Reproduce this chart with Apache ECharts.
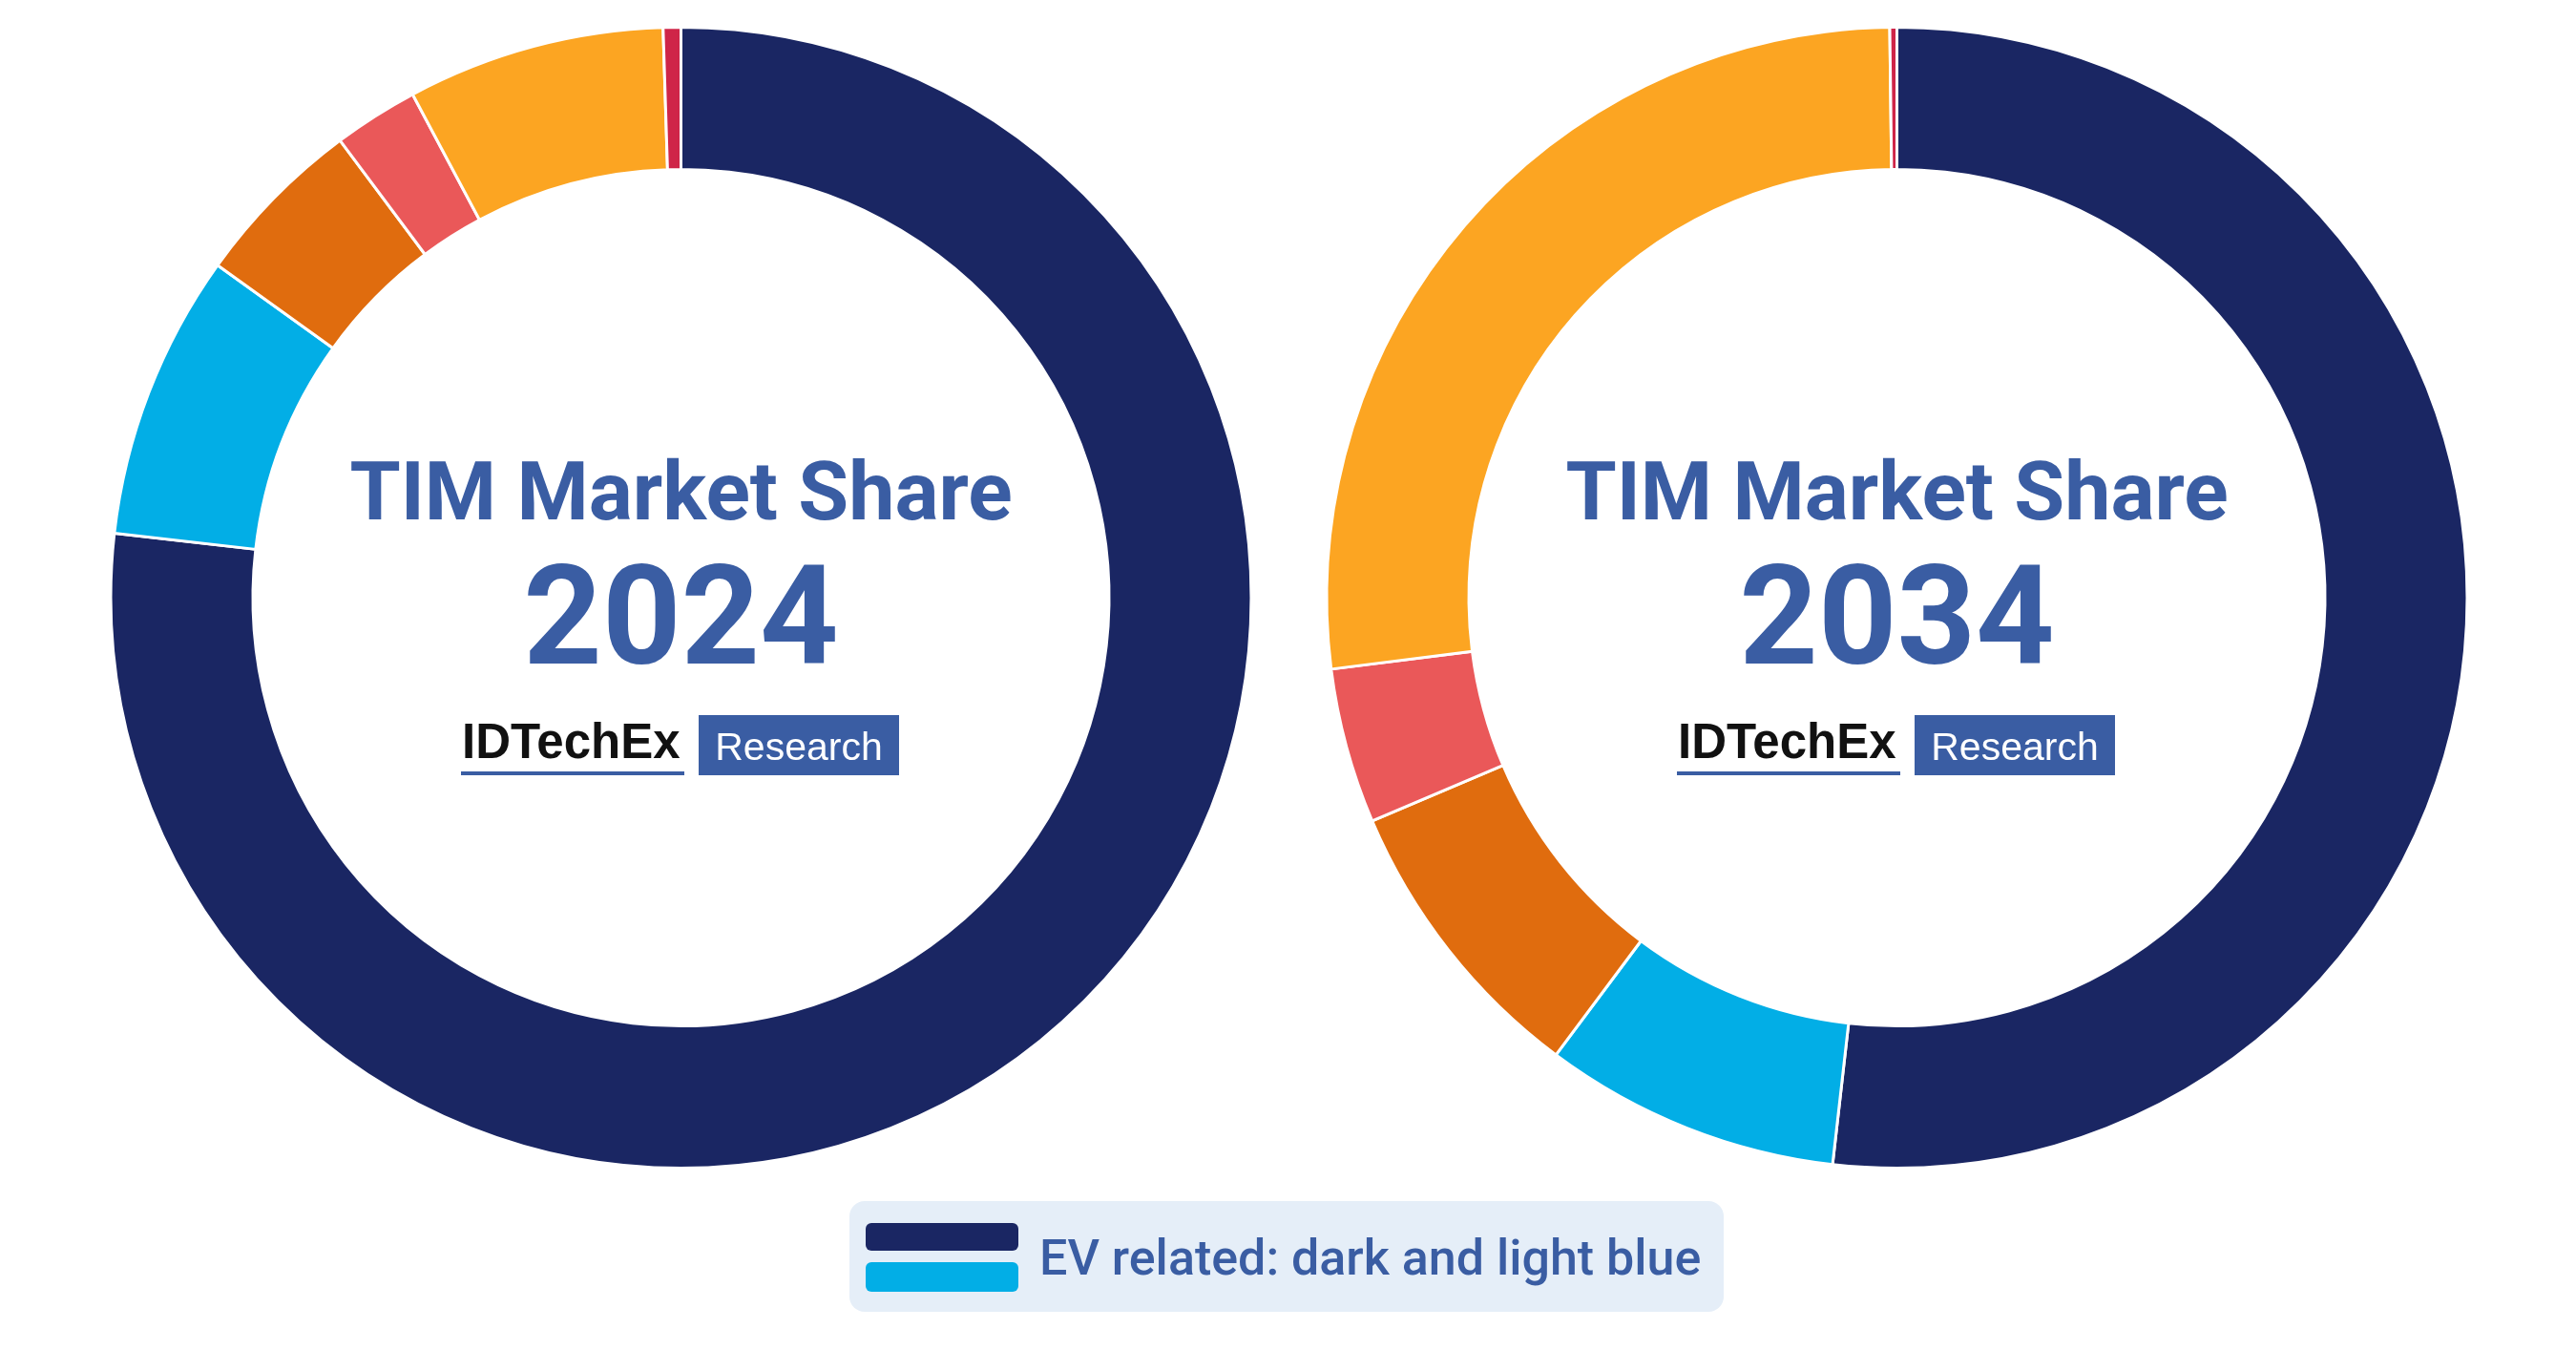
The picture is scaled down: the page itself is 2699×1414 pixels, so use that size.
<!DOCTYPE html>
<html>
<head>
<meta charset="utf-8">
<script src="https://cdn.jsdelivr.net/npm/echarts@6/dist/echarts.min.js"></script>
<style>
html,body{margin:0;padding:0;background:#fff;}
#chart{width:2699px;height:1414px;}
</style>
</head>
<body>
<div id="chart"></div>
<script>
// Segment order, clockwise from 12 o'clock
const categories = ['EV (dark blue)', 'EV (light blue)', 'Segment 3', 'Segment 4', 'Segment 5', 'Segment 6'];
const colors = ['#1A2663', '#02AEE6', '#E06C0E', '#EA5859', '#FCA522', '#CF2548'];
const share2024 = [76.8, 8.1, 4.9, 2.4, 7.3, 0.5];
const share2034 = [51.8, 8.4, 8.4, 4.4, 26.8, 0.2];
const years = ['2024', '2034'];
const titleText = 'TIM Market Share';
const legendText = 'EV related: dark and light blue';

const TEXT_BLUE = '#3A5DA3';
const centersX = [713.5, 1987.5];
const centerY = 626;

function pieSeries(values, cx) {
  return {
    type: 'pie',
    center: [cx, centerY],
    radius: [448.5, 597.5],
    startAngle: 90,
    clockwise: true,
    avoidLabelOverlap: false,
    label: {show: false},
    labelLine: {show: false},
    emphasis: {disabled: true},
    silent: true,
    animation: false,
    itemStyle: {borderColor: '#ffffff', borderWidth: 3},
    data: values.map((v, i) => ({name: categories[i], value: v, itemStyle: {color: colors[i]}}))
  };
}

function centerGraphics(cx, year) {
  return [
    {type: 'text', x: cx, y: 522, style: {text: titleText, fill: TEXT_BLUE, font: 'bold 86px Roboto', textAlign: 'center', textVerticalAlign: 'middle'}},
    {type: 'text', x: cx, y: 659, style: {text: year, fill: TEXT_BLUE, font: 'bold 144px Roboto', textAlign: 'center', textVerticalAlign: 'middle'}},
    {type: 'text', x: cx - 229.5, y: 780, style: {text: 'IDTechEx', fill: '#111111', font: 'bold 51px "Liberation Sans"', textAlign: 'left', textVerticalAlign: 'middle'}},
    {type: 'rect', shape: {x: cx - 230.5, y: 808, width: 234, height: 4}, style: {fill: TEXT_BLUE}},
    {type: 'rect', shape: {x: cx + 18.5, y: 749, width: 210, height: 63}, style: {fill: TEXT_BLUE}},
    {type: 'text', x: cx + 123.5, y: 785, style: {text: 'Research', fill: '#ffffff', font: '41px "Liberation Sans"', textAlign: 'center', textVerticalAlign: 'middle'}}
  ];
}

const graphics = [].concat(
  centerGraphics(centersX[0], years[0]),
  centerGraphics(centersX[1], years[1]),
  [
    {type: 'rect', shape: {x: 890, y: 1258, width: 916, height: 116, r: 16}, style: {fill: '#E5EEF8'}},
    {type: 'rect', shape: {x: 907, y: 1281, width: 160, height: 29, r: 6}, style: {fill: colors[0]}},
    {type: 'rect', shape: {x: 907, y: 1322, width: 160, height: 31, r: 6}, style: {fill: colors[1]}},
    {type: 'text', x: 1089, y: 1322, style: {text: legendText, fill: TEXT_BLUE, font: '500 52px Roboto', textAlign: 'left', textVerticalAlign: 'middle'}}
  ]
);

const chart = echarts.init(document.getElementById('chart'), null, {renderer: 'canvas'});
chart.setOption({
  backgroundColor: '#ffffff',
  animation: false,
  series: [pieSeries(share2024, centersX[0]), pieSeries(share2034, centersX[1])],
  graphic: graphics.map(g => Object.assign({silent: true}, g))
});
</script>
</body>
</html>
